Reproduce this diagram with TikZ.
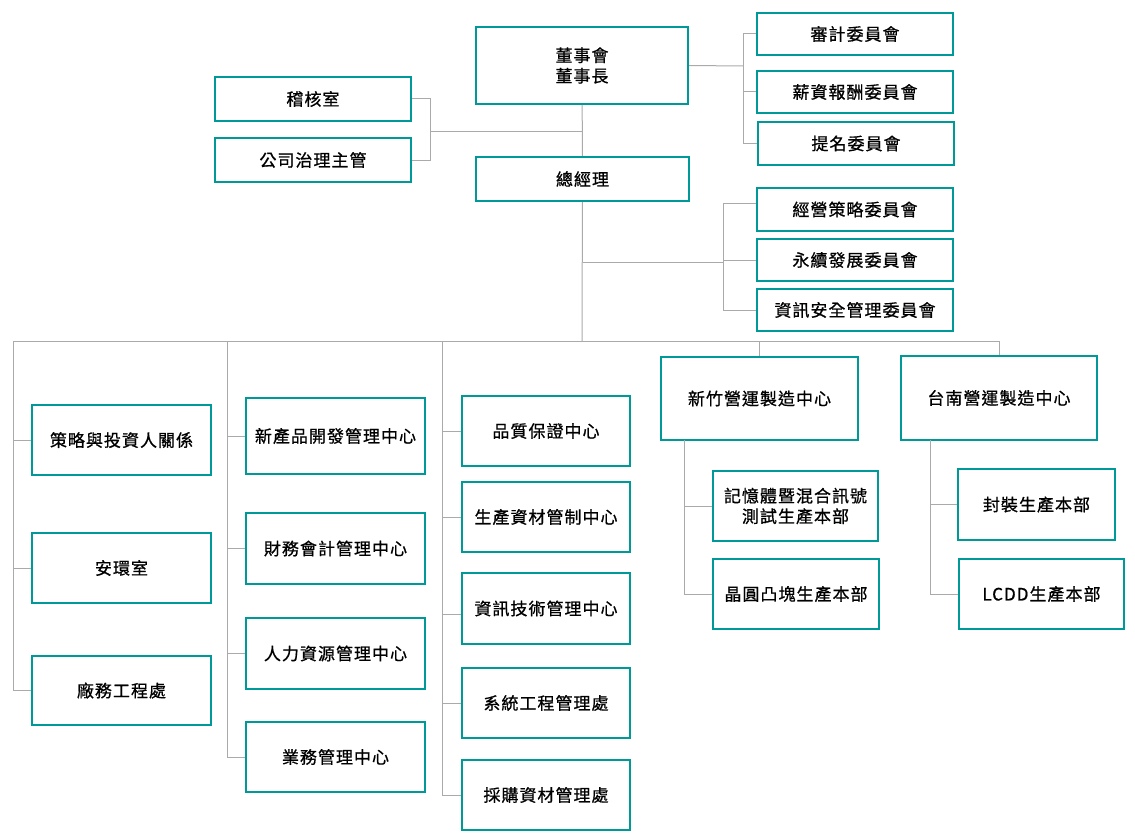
\documentclass[tikz,border=0pt]{standalone}
\usepackage{fontspec}
\setmainfont[LetterSpace=6,FakeBold=0.8]{Noto Sans CJK TC}
\definecolor{boxteal}{RGB}{0,153,153}
\definecolor{linkgray}{RGB}{170,170,170}

\begin{document}
\begin{tikzpicture}[x=1pt,y=-1pt,
	unit/.style={draw=boxteal,line width=2pt,align=center,inner sep=0pt,
		font=\fontsize{17}{20.5}\selectfont},
	link/.style={draw=linkgray,line width=1pt}]
	\useasboundingbox (0,0) rectangle (1135,840);
	
	% top level
	\node[unit,minimum width=212,minimum height=77] (board) at (582,65.5) {董事會\\董事長};
	\node[unit,minimum width=213,minimum height=44] (gm) at (582.5,179) {總經理};
	
	\node[unit,minimum width=196,minimum height=42] (audit) at (855,34) {審計委員會};
	\node[unit,minimum width=196,minimum height=42] (pay) at (855,92) {薪資報酬委員會};
	\node[unit,minimum width=196,minimum height=43] (nomin) at (856,143.5) {提名委員會};
	
	\node[unit,minimum width=196,minimum height=44] (inspect) at (313,99) {稽核室};
	\node[unit,minimum width=196,minimum height=44] (govern) at (313,160) {公司治理主管};
	
	\node[unit,minimum width=196,minimum height=43] (strat) at (855,209.5) {經營策略委員會};
	\node[unit,minimum width=196,minimum height=42] (esg) at (855,260) {永續發展委員會};
	\node[unit,minimum width=196,minimum height=42] (infosec) at (855,310) {資訊安全管理委員會};
	
	% first column
	\node[unit,minimum width=179,minimum height=70] (invest) at (121.5,440) {策略與投資人關係};
	\node[unit,minimum width=179,minimum height=70] (safety) at (121.5,568) {安環室};
	\node[unit,minimum width=179,minimum height=69] (facility) at (121.5,690.5) {廠務工程處};
	
	% second column
	\node[unit,minimum width=179,minimum height=76] (npd) at (335.5,436) {新產品開發管理中心};
	\node[unit,minimum width=179,minimum height=71] (finance) at (335.5,548.5) {財務會計管理中心};
	\node[unit,minimum width=179,minimum height=71] (hr) at (335.5,653.5) {人力資源管理中心};
	\node[unit,minimum width=179,minimum height=70] (sales) at (335.5,757) {業務管理中心};
	
	% third column
	\node[unit,minimum width=168,minimum height=70] (qa) at (546,431) {品質保證中心};
	\node[unit,minimum width=168,minimum height=70] (pmc) at (546,517) {生產資材管制中心};
	\node[unit,minimum width=168,minimum height=71] (it) at (546,608.5) {資訊技術管理中心};
	\node[unit,minimum width=168,minimum height=70] (syseng) at (546,703) {系統工程管理處};
	\node[unit,minimum width=168,minimum height=70] (purchase) at (546,795) {採購資材管理處};
	
	% operation centres
	\node[unit,minimum width=197,minimum height=83] (hsinchu) at (759.5,398.5) {新竹營運製造中心};
	\node[unit,minimum width=165,minimum height=70] (memtest) at (795.5,506) {記憶體暨混合訊號\\測試生產本部};
	\node[unit,minimum width=166,minimum height=70] (bump) at (796,594) {晶圓凸塊生產本部};
	
	\node[unit,minimum width=196,minimum height=84] (tainan) at (999,398) {台南營運製造中心};
	\node[unit,minimum width=157,minimum height=71] (pack) at (1036.5,504.5) {封裝生產本部};
	\node[unit,minimum width=165,minimum height=70] (lcdd) at (1041.5,594) {LCDD生產本部};
	
	% branch points
	\coordinate (rc) at (743,66);
	\coordinate (lc) at (430,132);
	\coordinate (gc) at (723,262);
	\coordinate (bus) at (582,341);
	\coordinate (b1) at (13,341);
	\coordinate (b2) at (227,341);
	\coordinate (b3) at (442,341);
	\coordinate (h1) at (684,440);
	\coordinate (t1) at (930,440);
	
	% connectors
	\draw[link] (board) -- (gm);
	\draw[link] (gm) -- (bus);
	\draw[link] (board.east) -- (rc);
	\draw[link] (audit.west) -| (rc);
	\draw[link] (nomin.west) -| (rc);
	\draw[link] (pay.west) -- (pay.west -| rc);
	\draw[link] (lc) -- (lc -| board);
	\draw[link] (inspect.east) -| (lc);
	\draw[link] (govern.east) -| (lc);
	\draw[link] (gc -| gm) -- (gc);
	\draw[link] ([yshift=6pt]strat.west) -| (gc);
	\draw[link] (infosec.west) -| (gc);
	\draw[link] (esg.west) -- (esg.west -| gc);
	
	\draw[link] (b1) -- (tainan.north |- b1) -- (tainan.north);
	\draw[link] (hsinchu.north |- b1) -- (hsinchu.north);
	\foreach \n in {invest,safety,facility} \draw[link] (\n.west) -| (b1);
	\foreach \n in {npd,finance,hr,sales} \draw[link] (\n.west) -| (b2);
	\foreach \n in {qa,pmc,syseng,purchase} \draw[link] (\n.west) -| (b3);
	\draw[link] ([yshift=-5.5pt]it.west) -| (b3);
	\foreach \n in {memtest,bump} \draw[link] (\n.west) -| (h1);
	\foreach \n in {pack,lcdd} \draw[link] (\n.west) -| (t1);
\end{tikzpicture}
\end{document}
